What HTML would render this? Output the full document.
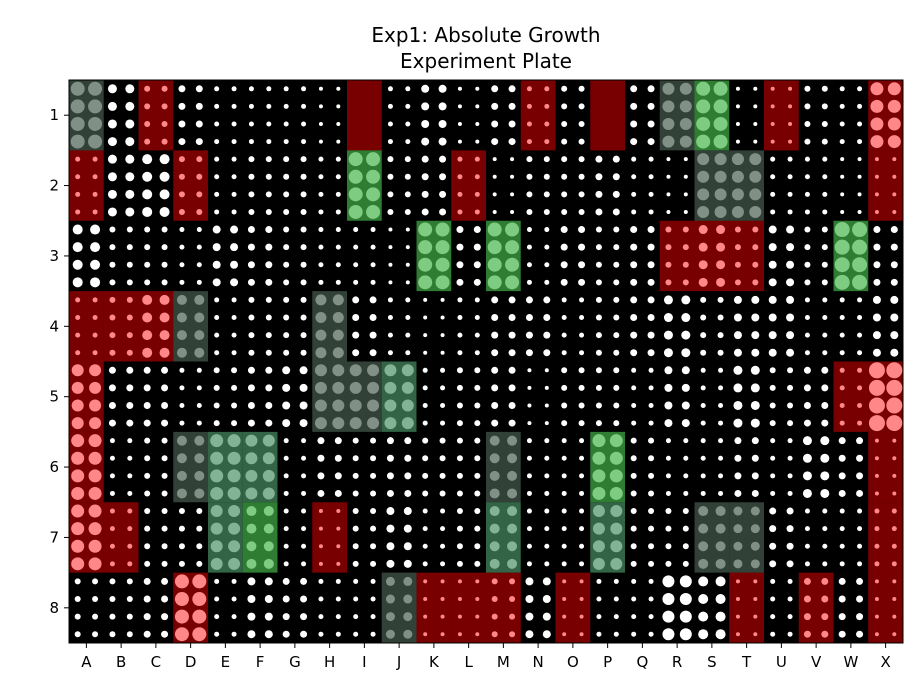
<!DOCTYPE html>
<html><head><meta charset="utf-8">
<style>
html,body{margin:0;padding:0;background:#fff;}
svg{display:block;font-family:"DejaVu Sans","Liberation Sans",sans-serif;}
</style></head>
<body>
<svg id="chart" width="918" height="676" viewBox="0 0 918 676" xmlns="http://www.w3.org/2000/svg">
<text x="486" y="42" font-size="20" text-anchor="middle" fill="#000">Exp1: Absolute Growth</text>
<text x="486" y="68" font-size="20" text-anchor="middle" fill="#000">Experiment Plate</text>
<g id="plot"></g>
</svg>
<script>
const colLabels = ["A","B","C","D","E","F","G","H","I","J","K","L","M","N","O","P","Q","R","S","T","U","V","W","X"];
const rowLabels = ["1","2","3","4","5","6","7","8"];
// colony radius per well (rows 1..8, columns A..X)
const row1 = [7,4.5,3,3.5,2.5,2.5,2.5,2,0,2.5,4,2,3.5,2.5,3,0,3.5,6,7,2,2,3,2.5,6.5];
const row2 = [2.5,4.5,5,3,2.5,3,3,2.5,7,3,3.5,2.5,2,3,3,3.5,2.5,2,6,6,2.5,2.5,2,2];
const row3 = [5,3,3,2.5,4,3.5,3,2.5,2.5,2,7,3.5,7,2.5,3.5,3,3.5,3,4.5,3,4,3,7.5,3.5];
const row4 = [2.5,3,5,5,2.5,3,3,5.5,3.5,2.5,2,2.5,3.5,3.5,2.5,3,3.5,4.5,3,4,4,2.5,2.5,4];
const row5 = [6,3.5,3.5,2.5,3,3.5,4,6,6,6,2.5,3,3.5,2,3,3,2.5,4,2.5,4.5,3,3.5,2.5,8];
const row6 = [6.5,2.5,3,5,6.5,6,2.5,3.5,3,3.5,3,3,5,2.5,2.5,6.5,3,2.5,2.5,3.5,2.5,4.5,3.5,2];
const row7 = [6.5,2.5,3,3,6,5,2.5,2,3,4,2.5,3,5,2.5,2.5,6,3,3,5,4.5,3.5,2.5,2.5,2.5];
const row8 = [3,3,3.5,7,2.5,4,3.5,2.5,2.5,4.5,2,2,3,4,2,2.5,2.5,6,5,2,2.5,3.5,3.5,2];
const sizes = [row1,row2,row3,row4,row5,row6,row7,row8];
// highlighted wells: [column index, row index, type]
const highlights = [
 [0,0,"gray"],[2,0,"red"],[8,0,"red"],[13,0,"red"],[15,0,"red"],[17,0,"gray"],[18,0,"green"],[20,0,"red"],[23,0,"red"],
 [0,1,"red"],[3,1,"red"],[8,1,"green"],[11,1,"red"],[18,1,"gray"],[19,1,"gray"],[23,1,"red"],
 [10,2,"green"],[12,2,"green"],[17,2,"red"],[18,2,"red"],[19,2,"red"],[22,2,"green"],
 [0,3,"red"],[1,3,"red"],[2,3,"red"],[3,3,"gray"],[7,3,"gray"],
 [0,4,"red"],[7,4,"gray"],[8,4,"gray"],[9,4,"mid"],[22,4,"red"],[23,4,"red"],
 [0,5,"red"],[3,5,"gray"],[4,5,"mid"],[5,5,"mid"],[12,5,"gray"],[15,5,"green"],[23,5,"red"],
 [0,6,"red"],[1,6,"red"],[4,6,"mid"],[5,6,"green"],[7,6,"red"],[12,6,"mid"],[15,6,"mid"],[18,6,"gray"],[19,6,"gray"],[23,6,"red"],
 [3,7,"red"],[9,7,"gray"],[10,7,"red"],[11,7,"red"],[12,7,"red"],[14,7,"red"],[19,7,"red"],[21,7,"red"],[23,7,"red"]
];
const fills = {red:"rgba(255,0,0,0.47)",green:"rgba(67,181,72,0.69)",gray:"rgba(72,94,80,0.69)",mid:"rgba(72,145,100,0.69)"};
const X0=69, X1=903, Y0=80, Y1=643;
const cw=(X1-X0)/colLabels.length, rh=(Y1-Y0)/rowLabels.length;
const xs = c => X0 + c*cw;
const ys = r => Y0 + r*rh;
const NS="http://www.w3.org/2000/svg";
const g=document.getElementById('plot');
function mk(tag,attrs,parent){const e=document.createElementNS(NS,tag);for(const k in attrs)e.setAttribute(k,attrs[k]);(parent||g).appendChild(e);return e;}
const bg=mk('rect',{x:X0,y:Y0,width:X1-X0,height:Y1-Y0,fill:"#000"});


for(let r=0;r<rowLabels.length;r++){
  for(let c=0;c<colLabels.length;c++){
    const rad=sizes[r][c];
    if(rad<=0) continue;
    for(let i=0;i<2;i++)for(let j=0;j<4;j++){
      const d=mk('circle',{cx:xs(c)+(i+0.5)*cw/2,cy:ys(r)+(j+0.5)*rh/4,r:rad,fill:"#fff"});
      
      
    }
  }
}
highlights.forEach(h=>{
  const e=mk('rect',{x:xs(h[0]),y:ys(h[1]),width:cw,height:rh,fill:fills[h[2]]});
  
  
});
const fr=mk('rect',{x:X0,y:Y0,width:X1-X0,height:Y1-Y0,fill:"none",stroke:"#000","stroke-width":1});


colLabels.forEach((l,c)=>{
  const x=xs(c)+cw/2;
  const t=mk('line',{x1:x,x2:x,y1:Y1,y2:Y1+5,stroke:"#000"});
  
  
  const tx=mk('text',{x:x,y:Y1+24,"font-size":15,"text-anchor":"middle",fill:"#000"});
  tx.textContent=l;
  
  
});
rowLabels.forEach((l,r)=>{
  const y=ys(r)+rh/2;
  const t=mk('line',{x1:X0-5,x2:X0,y1:y,y2:y,stroke:"#000"});
  
  
  const tx=mk('text',{x:X0-10,y:y+5,"font-size":15,"text-anchor":"end",fill:"#000"});
  tx.textContent=l;
  
  
});
</script>
</body></html>
